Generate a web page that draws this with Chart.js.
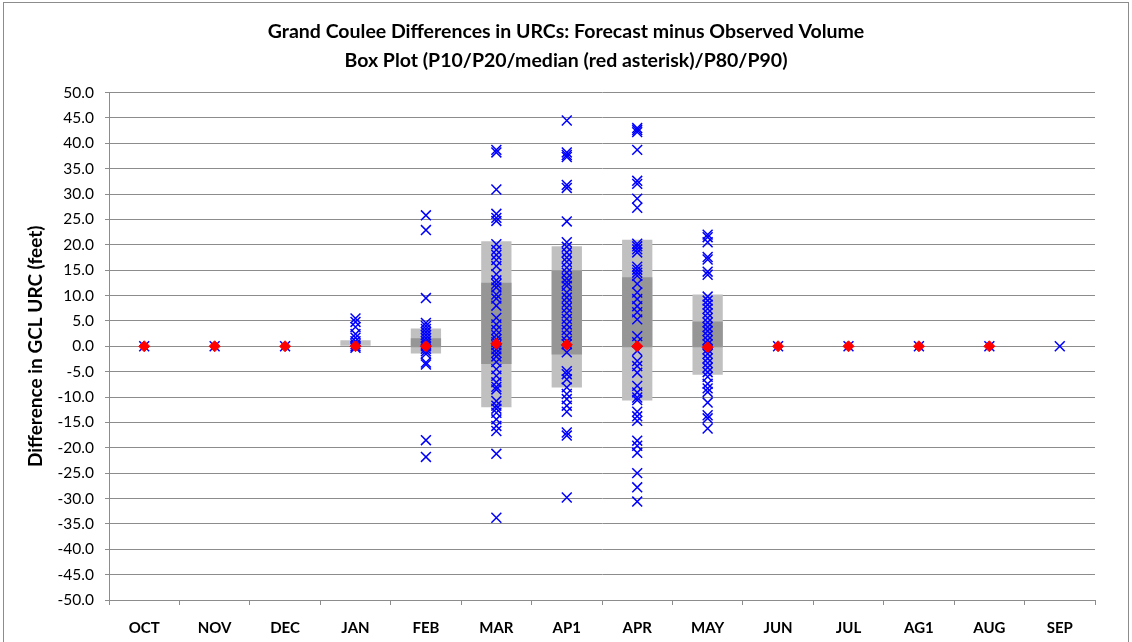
<!DOCTYPE html>
<html lang="en">
<head>
<meta charset="UTF-8">
<title>Grand Coulee URC Differences</title>
<script src="https://cdn.jsdelivr.net/npm/chart.js"></script>
<style>
    body { margin: 0; background: #fff; }
    .wrap { position: relative; width: 1132px; height: 642px; }
    .frame {
        position: absolute; left: 3px; top: 2px; right: 3px; bottom: -2px;
        border: 1px solid #8c8c8c; pointer-events: none;
    }
</style>
</head>
<body>
<div class="wrap">
    <canvas id="boxChart" width="1132" height="642"></canvas>
    <div class="frame"></div>
</div>
<script>
    // categories
    const months = ['OCT', 'NOV', 'DEC', 'JAN', 'FEB', 'MAR', 'AP1', 'APR', 'MAY', 'JUN', 'JUL', 'AG1', 'AUG', 'SEP'];

    // box percentiles (null = no box)
    const p10 = [null, null, null, 0, -1.4, -12.0, -8.1, -10.7, -5.6, null, null, null, null, null];
    const p20 = [null, null, null, null, -0.2, -3.5, -1.6, -0.2, -0.2, null, null, null, null, null];
    const p80 = [null, null, null, null, 1.6, 12.5, 15.0, 13.6, 4.9, null, null, null, null, null];
    const p90 = [null, null, null, 1.2, 3.5, 20.7, 19.7, 21.0, 10.2, null, null, null, null, null];

    // medians (red)
    const medians = [0, 0, 0, 0, 0, 0.5, 0.3, 0, -0.2, 0, 0, 0, 0, null];

    // individual differences per month (blue crosses)
    const octPts = [0];
    const novPts = [0];
    const decPts = [0];
    const janPts = [5.5, 4.8, 3.8, 2.4, 1.7, 1.0, 0.4, 0, -0.3];
    const febPts = [25.8, 22.9, 9.5, 4.6, 4.0, 3.4, 2.8, 2.2, 1.6, 1.0, 0.5, 0, -0.5, -1.0, -1.5, -3.2, -3.6, -18.5, -21.8];
    const marPts = [38.7, 38.2, 30.9, 26.1, 25.3, 24.7, 20.1, 19.0, 18.0, 17.0, 15.8, 14.2, 13.0, 12.3, 11.6, 10.2, 9.4, 8.0,
        5.6, 4.3, 3.2, 2.2, 1.4, 0.8, 0.2, -0.6, -1.3, -2.0, -3.1, -4.5, -5.8, -7.1, -8.0, -8.5, -10.8, -11.7, -12.3,
        -13.1, -14.4, -15.7, -16.7, -21.2, -33.8];
    const ap1Pts = [44.5, 38.2, 37.7, 37.3, 31.8, 31.2, 24.6, 20.5, 19.6, 18.5, 17.5, 16.6, 15.5, 14.5, 13.4, 12.6, 11.9,
        10.6, 9.6, 8.6, 7.6, 6.5, 5.4, 4.3, 3.2, 2.1, 1.0, 0.4, -1.2, -4.9, -5.5, -6.5, -8.1, -9.4, -10.4, -11.7, -12.9,
        -17.0, -17.6, -29.8];
    const aprPts = [43.0, 42.6, 42.2, 38.7, 32.6, 32.0, 29.1, 27.3, 20.2, 19.7, 19.1, 18.5, 15.7, 15.1, 14.5, 13.9, 12.3,
        10.6, 9.3, 7.9, 6.7, 5.3, 2.0, 0.8, -0.9, -2.9, -3.9, -5.2, -7.8, -9.1, -10.1, -10.6, -12.9, -13.8, -14.7,
        -18.6, -19.6, -21.0, -25.0, -27.8, -30.6];
    const mayPts = [22.0, 21.5, 20.5, 17.6, 17.1, 14.7, 14.1, 9.8, 9.0, 8.2, 7.4, 6.5, 5.6, 4.7, 3.8, 3.0, 2.1, 1.2, 0.4,
        -0.6, -1.5, -2.4, -3.3, -4.2, -5.1, -6.0, -7.4, -8.3, -9.0, -11.1, -13.6, -14.2, -16.2];
    const junPts = [0];
    const julPts = [0];
    const ag1Pts = [0];
    const augPts = [0];
    const sepPts = [0];

    const monthPts = [octPts, novPts, decPts, janPts, febPts, marPts, ap1Pts, aprPts, mayPts, junPts, julPts, ag1Pts, augPts, sepPts];

    // build datasets from the arrays above
    const outerBox = months.map((m, i) => (p10[i] === null || p90[i] === null) ? null : [p10[i], p90[i]]);
    const innerBox = months.map((m, i) => (p20[i] === null || p80[i] === null) ? null : [p20[i], p80[i]]);
    const crossPts = [];
    months.forEach((m, i) => monthPts[i].forEach(v => crossPts.push({ x: m, y: v })));
    const medianPts = months.map((m, i) => ({ x: m, y: medians[i] }));

    const gridColor = '#8c8c8c';
    const font = 'Lato, "Liberation Sans", sans-serif';

    const ctx = document.getElementById('boxChart').getContext('2d');
    const boxChart = new Chart(ctx, {
        type: 'bar',
        data: {
            labels: months,
            datasets: [
                {
                    label: 'P10-P90',
                    data: outerBox,
                    backgroundColor: '#c0c0c0',
                    grouped: false,
                    barPercentage: 0.43,
                    categoryPercentage: 1,
                    order: 3
                },
                {
                    label: 'P20-P80',
                    data: innerBox,
                    backgroundColor: '#969696',
                    grouped: false,
                    barPercentage: 0.43,
                    categoryPercentage: 1,
                    order: 2
                },
                {
                    type: 'line',
                    label: 'Differences',
                    data: crossPts,
                    showLine: false,
                    pointStyle: 'crossRot',
                    pointRadius: 7,
                    pointBorderWidth: 1.5,
                    borderColor: '#0000ff',
                    backgroundColor: '#0000ff',
                    order: 1
                },
                {
                    type: 'line',
                    label: 'Median',
                    data: medianPts,
                    showLine: false,
                    pointStyle: 'rectRot',
                    pointRadius: 5.5,
                    pointBorderWidth: 1,
                    borderColor: '#ff0000',
                    backgroundColor: '#ff0000',
                    order: 0
                }
            ]
        },
        options: {
            responsive: false,
            animation: false,
            layout: { padding: { left: 0, right: 0, top: 0, bottom: -9 } },
            plugins: {
                legend: { display: false },
                tooltip: { enabled: false },
                title: {
                    display: true,
                    text: ['Grand Coulee Differences in URCs: Forecast minus Observed Volume',
                           'Box Plot (P10/P20/median (red asterisk)/P80/P90)'],
                    color: '#000',
                    font: { family: font, size: 19.5, weight: 'bold', lineHeight: 1.45 },
                    padding: { top: 18, bottom: 18 }
                }
            },
            scales: {
                x: {
                    type: 'category',
                    offset: true,
                    grid: {
                        offset: true,
                        drawOnChartArea: false,
                        drawTicks: true,
                        tickLength: 5,
                        color: gridColor
                    },
                    border: { color: gridColor },
                    ticks: {
                        color: '#000',
                        padding: 14,
                        font: { family: font, size: 15, weight: 'bold' }
                    }
                },
                y: {
                    min: -50,
                    max: 50,
                    afterFit: scale => { scale.width = 109; },
                    grid: { color: gridColor, tickLength: 4 },
                    border: { color: gridColor },
                    ticks: {
                        stepSize: 5,
                        color: '#000',
                        padding: 11,
                        font: { family: font, size: 15.5 },
                        callback: v => v.toFixed(1)
                    },
                    title: {
                        display: true,
                        text: 'Difference in GCL URC (feet)',
                        color: '#000',
                        font: { family: font, size: 19, weight: 'bold' },
                        padding: { top: 24 }
                    }
                },
                yRight: {
                    position: 'right',
                    min: -50,
                    max: 50,
                    afterFit: scale => { scale.width = 37; },
                    grid: { drawOnChartArea: false, drawTicks: false },
                    border: { display: false },
                    ticks: { display: false }
                }
            }
        }
    });
</script>
</body>
</html>
